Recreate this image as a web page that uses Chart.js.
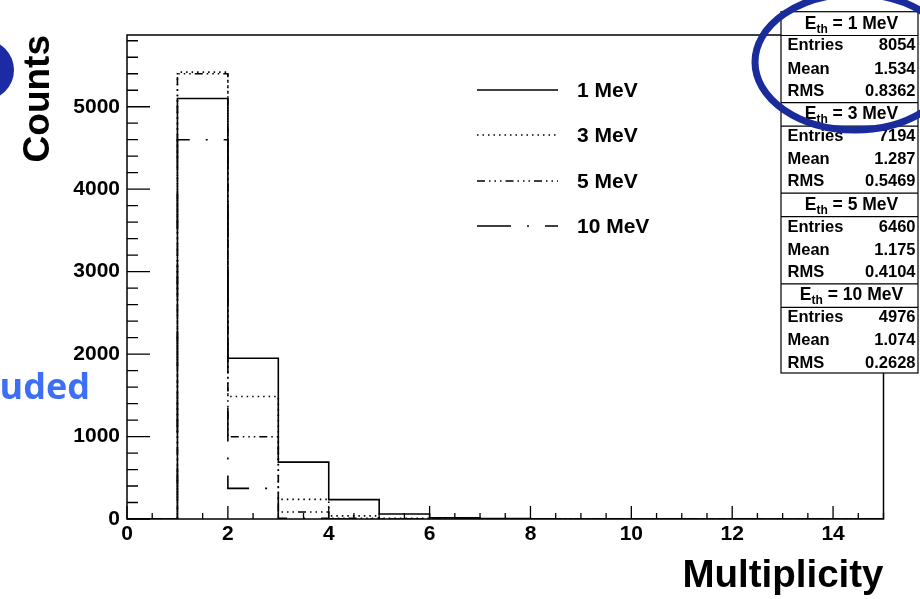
<!DOCTYPE html>
<html>
<head>
<meta charset="utf-8">
<script src="https://cdn.jsdelivr.net/npm/chart.js@4.4.1/dist/chart.umd.min.js"></script>
<style>
  html, body { margin: 0; padding: 0; background: #fff; }
  #wrap { position: relative; width: 920px; height: 599px; }
</style>
</head>
<body>
<div id="wrap"><canvas id="chart" width="920" height="599"></canvas></div>
<script>
// bin edges of the multiplicity histogram (bins 0-1, 1-2, ... 14-15)
const binEdges = [0, 1, 2, 3, 4, 5, 6, 7, 8, 9, 10, 11, 12, 13, 14, 15];
const seriesLabels = ["1 MeV", "3 MeV", "5 MeV", "10 MeV"];
const counts1MeV = [0, 5100, 1950, 690, 235, 60, 15, 4, 0, 0, 0, 0, 0, 0, 0];
const counts3MeV = [0, 5420, 1485, 238, 38, 8, 0, 0, 0, 0, 0, 0, 0, 0, 0];
const counts5MeV = [0, 5400, 998, 85, 8, 0, 0, 0, 0, 0, 0, 0, 0, 0, 0];
const counts10MeV = [0, 4600, 372, 8, 0, 0, 0, 0, 0, 0, 0, 0, 0, 0, 0];
const xTicks = [0, 2, 4, 6, 8, 10, 12, 14];
const yTicks = [0, 1000, 2000, 3000, 4000, 5000];

// stats box text
const statsEntries = ["8054", "7194", "6460", "4976"];
const statsMean = ["1.534", "1.287", "1.175", "1.074"];
const statsRMS = ["0.8362", "0.5469", "0.4104", "0.2628"];

const FONT = "'Liberation Sans', Arial, Helvetica, sans-serif";
const dashes = [[], [1.5, 4], [8, 4, 1.5, 4, 1.5, 4, 1.5, 4], [34, 16, 2, 16]];

function histPoints(counts) {
  const pts = counts.map((c, i) => ({ x: binEdges[i], y: c }));
  pts.push({ x: binEdges[binEdges.length - 1], y: counts[counts.length - 1] });
  return pts;
}

const allCounts = [counts1MeV, counts3MeV, counts5MeV, counts10MeV];
const datasets = allCounts.map((c, i) => ({
  label: seriesLabels[i],
  data: histPoints(c),
  stepped: "before",
  borderColor: "#000",
  borderWidth: 1.6,
  borderDash: dashes[i],
  pointRadius: 0,
  fill: false
}));

const rootDecor = {
  id: "rootDecor",
  afterDraw(chart) {
    const { ctx, chartArea: a, scales: { x, y } } = chart;
    ctx.save();
    ctx.strokeStyle = "#000";
    ctx.fillStyle = "#000";

    // frame
    ctx.lineWidth = 1.5;
    ctx.setLineDash([]);
    ctx.strokeRect(a.left, a.top, a.right - a.left, a.bottom - a.top);

    // inward ticks
    ctx.lineWidth = 1.3;
    ctx.beginPath();
    for (let k = 0; k <= 30; k++) {
      const px = x.getPixelForValue(k * 0.5);
      const len = k % 4 === 0 ? 13 : 6;
      ctx.moveTo(px, a.bottom);
      ctx.lineTo(px, a.bottom - len);
    }
    for (let k = 0; k * 200 <= y.max; k++) {
      const py = y.getPixelForValue(k * 200);
      const len = k % 5 === 0 ? 23 : 11;
      ctx.moveTo(a.left, py);
      ctx.lineTo(a.left + len, py);
    }
    ctx.stroke();

    // legend
    const rows = [90, 135, 181, 226];
    ctx.font = "bold 21px " + FONT;
    ctx.textBaseline = "middle";
    ctx.textAlign = "left";
    chart.data.datasets.forEach((ds, i) => {
      ctx.lineWidth = 1.6;
      ctx.setLineDash(ds.borderDash);
      ctx.beginPath();
      ctx.moveTo(477, rows[i]);
      ctx.lineTo(558, rows[i]);
      ctx.stroke();
      ctx.fillText(ds.label, 577, rows[i] + 1);
    });
    ctx.setLineDash([]);

    // stats box
    const bl = 781, br = 918, bt = 11.7, bb = 373;
    ctx.fillStyle = "#fff";
    ctx.fillRect(bl, bt, br - bl, bb - bt);
    ctx.lineWidth = 1.2;
    ctx.strokeRect(bl, bt, br - bl, bb - bt);
    ctx.fillStyle = "#000";
    for (let k = 0; k < 4; k++) {
      const hc = 22.5 + 90.6 * k;
      ctx.beginPath();
      if (k > 0) { ctx.moveTo(bl, hc - 10.5); ctx.lineTo(br, hc - 10.5); }
      ctx.moveTo(bl, hc + 13); ctx.lineTo(br, hc + 13);
      ctx.stroke();
      // header E_th = ...
      const big = "bold 17.5px " + FONT, small = "bold 12px " + FONT;
      ctx.font = big;
      const wE = ctx.measureText("E").width;
      const rest = " = " + seriesLabels[k];
      const wR = ctx.measureText(rest).width;
      ctx.font = small;
      const wS = ctx.measureText("th").width;
      const sx = (bl + br) / 2 + 2 - (wE + wS + wR) / 2;
      ctx.textAlign = "left";
      ctx.textBaseline = "alphabetic";
      ctx.font = big;
      ctx.fillText("E", sx, hc + 6);
      ctx.font = small;
      ctx.fillText("th", sx + wE, hc + 10);
      ctx.font = big;
      ctx.fillText(rest, sx + wE + wS, hc + 6);
      // rows
      const names = ["Entries", "Mean", "RMS"];
      const vals = [statsEntries[k], statsMean[k], statsRMS[k]];
      const offs = [23.3, 46.5, 68.8];
      ctx.font = "bold 16.5px " + FONT;
      ctx.textBaseline = "middle";
      names.forEach((n, j) => {
        ctx.textAlign = "left";
        ctx.fillText(n, 787.5, hc + offs[j]);
        ctx.textAlign = "right";
        ctx.fillText(vals[j], 915.5, hc + offs[j]);
      });
    }

    // slide annotations
    ctx.strokeStyle = "#1a2b9b";
    ctx.lineWidth = 7;
    ctx.beginPath();
    ctx.ellipse(855, 62, 100, 68, 0, 0, Math.PI * 2);
    ctx.stroke();
    ctx.fillStyle = "#1c2ba3";
    ctx.beginPath();
    ctx.arc(-16, 70, 30, 0, Math.PI * 2);
    ctx.fill();
    ctx.fillStyle = "#3d6ff5";
    ctx.font = "bold 36px 'Open Sans', " + FONT;
    ctx.textAlign = "right";
    ctx.textBaseline = "alphabetic";
    ctx.fillText("uded", 90, 399);
    ctx.restore();
  }
};

new Chart(document.getElementById("chart"), {
  type: "line",
  data: { datasets },
  options: {
    responsive: false,
    animation: false,
    layout: { padding: { top: 35, right: 36.5, left: 0, bottom: 0 } },
    plugins: { legend: { display: false }, tooltip: { enabled: false } },
    scales: {
      x: {
        type: "linear",
        min: 0,
        max: 15,
        afterFit(s) { s.height = 80; },
        afterBuildTicks(s) { s.ticks = xTicks.map((v) => ({ value: v })); },
        ticks: {
          color: "#000", font: { family: FONT, size: 21, weight: "bold" }, padding: 3, maxRotation: 0,
          callback: (v) => String(v)
        },
        grid: { display: false, drawTicks: false },
        border: { display: false },
        title: {
          display: true, text: "Multiplicity", align: "end", color: "#000",
          font: { family: FONT, size: 38.5, weight: "bold" }, padding: { top: 0, bottom: 0 }
        }
      },
      y: {
        min: 0,
        max: 5870,
        afterFit(s) { s.width = 127; },
        afterBuildTicks(s) { s.ticks = yTicks.map((v) => ({ value: v })); },
        ticks: {
          color: "#000", font: { family: FONT, size: 21, weight: "bold" }, padding: 7,
          callback: (v) => String(v)
        },
        grid: { display: false, drawTicks: false },
        border: { display: false },
        title: {
          display: true, text: "Counts", align: "end", color: "#000",
          font: { family: FONT, size: 37, weight: "bold" }, padding: { top: 17, bottom: 0 }
        }
      }
    }
  },
  plugins: [rootDecor]
});
</script>
</body>
</html>
